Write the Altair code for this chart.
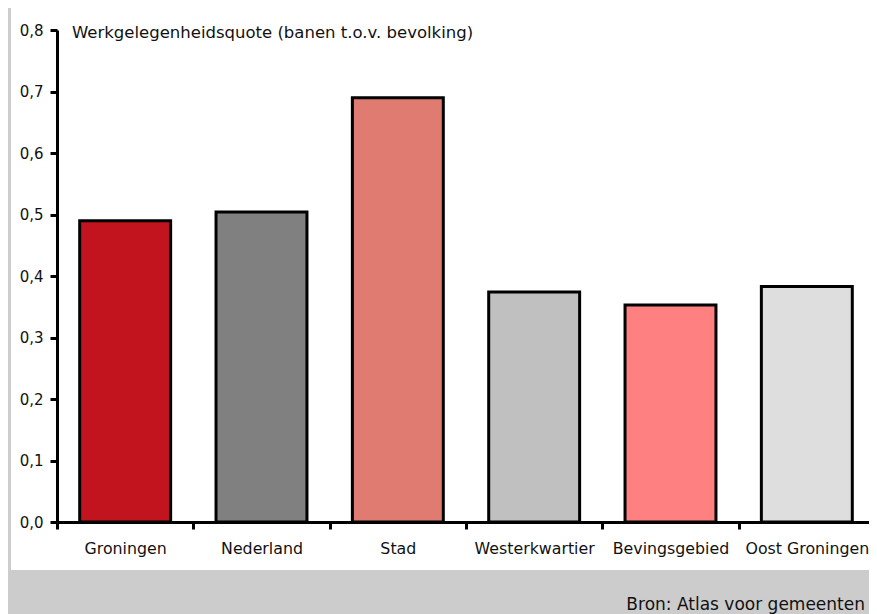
import altair as alt
import pandas as pd

categories = ["Groningen", "Nederland", "Stad", "Westerkwartier", "Bevingsgebied", "Oost Groningen"]
values = [0.490, 0.504, 0.690, 0.374, 0.353, 0.383]
colors = ["#c1141f", "#808080", "#df7b71", "#c0c0c0", "#ff8080", "#dedede"]
y_ticks = [0.0, 0.1, 0.2, 0.3, 0.4, 0.5, 0.6, 0.7, 0.8]
title_text = "Werkgelegenheidsquote (banen t.o.v. bevolking)"
source_text = "Bron: Atlas voor gemeenten"

FONT = "DejaVu Sans"
df = pd.DataFrame({"regio": categories, "waarde": values})

panel = alt.Chart(pd.DataFrame({"a": [0]})).mark_rect(color="white").encode(
    x=alt.value(-46), x2=alt.value(840), y=alt.value(-22), y2=alt.value(540)
)

bars = alt.Chart(df).mark_bar(stroke="black", strokeWidth=3,
                              width=alt.RelativeBandSize(0.667)).encode(
    x=alt.X("regio:N", sort=categories,
            scale=alt.Scale(paddingInner=0, paddingOuter=0),
            axis=alt.Axis(title=None, labelAngle=0, tickBand="extent", labelPadding=12,
                          labelFontSize=15.8, zindex=1)),
    y=alt.Y("waarde:Q", scale=alt.Scale(domain=[0, 0.8], nice=False),
            axis=alt.Axis(title=None, values=y_ticks, labelPadding=7, zindex=1,
                          labelFontSize=15,
                          labelExpr="replace(format(datum.value, '.1f'), '.', ',')")),
    color=alt.Color("regio:N", sort=categories,
                    scale=alt.Scale(domain=categories, range=colors), legend=None),
)

title = alt.Chart(pd.DataFrame({"t": [title_text]})).mark_text(
    align="left", baseline="alphabetic", font=FONT, fontSize=16.5, color="#111"
).encode(x=alt.value(15), y=alt.value(8), text="t:N")

source = alt.Chart(pd.DataFrame({"t": [source_text]})).mark_text(
    align="right", baseline="alphabetic", font=FONT, fontSize=17, color="#111"
).encode(x=alt.value(808), y=alt.value(580), text="t:N")

chart = alt.layer(panel, bars, title, source).properties(
    width=818, height=492,
    autosize=alt.AutoSizeParams(type="none"),
    padding={"left": 49, "top": 22, "right": -6, "bottom": 92},
    background="#cccccc",
).configure_view(stroke=None).configure_axis(
    grid=False, domainColor="black", domainWidth=3, tickColor="black", tickWidth=3,
    tickSize=7, labelFont=FONT, labelColor="#111",
)

chart.save("out.html", embed_options={"renderer": "svg", "actions": False})
